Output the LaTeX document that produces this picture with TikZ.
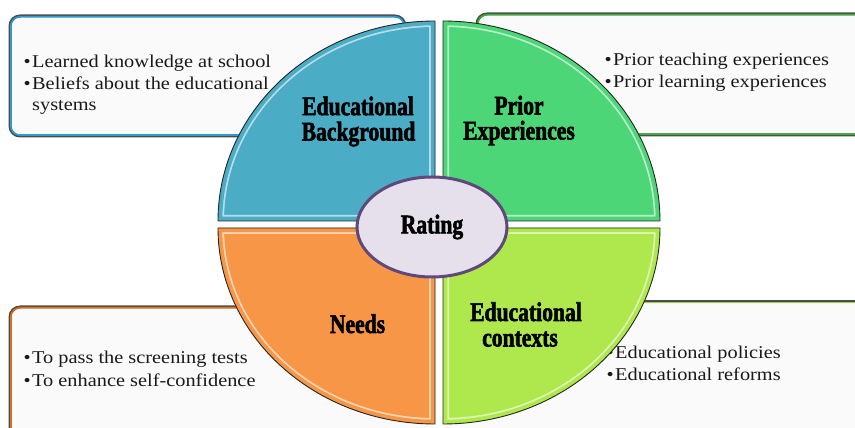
\documentclass[tikz,border=0pt]{standalone}
\usepackage{fontspec}
\setmainfont{Liberation Serif}[FakeStretch=1.13]
\newfontfamily\headfont{Liberation Serif}[FakeStretch=0.8,BoldFeatures={FakeBold=2}]
\usetikzlibrary{shapes.geometric}
\definecolor{qblue}{HTML}{4BACC6}
\definecolor{qgreen}{HTML}{4CD677}
\definecolor{qorange}{HTML}{F79646}
\definecolor{qlime}{HTML}{AEE84C}
\definecolor{bblue}{HTML}{1EA0DA}
\definecolor{bgreen}{HTML}{2FB52F}
\definecolor{borange}{HTML}{E46C0A}
\definecolor{blime}{HTML}{8CD92E}
\definecolor{rlav}{HTML}{E5E0EC}
\definecolor{rpurple}{HTML}{5F497A}
\definecolor{boxfill}{HTML}{FAFAFA}
\newcommand\infobox[5]{%
  \draw[line width=3pt, draw=black!70, fill=boxfill, rounded corners=10pt] (#1,#2) rectangle (#3,#4);
  \draw[line width=1.5pt, draw=#5, rounded corners=9.25pt] ({#1+0.75},{#2-0.75}) rectangle ({#3-0.75},{#4+0.75});}
\newcommand\quadrant[2]{%
  \begin{scope}
    \clip #2;
    \fill[#1] #2;
    \draw[line width=12pt, #1!40!white] #2;
    \draw[line width=8.5pt, #1] #2;
  \end{scope}
  \draw[quad] #2;}
\begin{document}
\begin{tikzpicture}[x=1pt,y=1pt,
  quad/.style={draw=black!85, line width=0.9pt},
  darkedge/.style={line width=3pt, draw=black!70, rounded corners=10pt},
  bodytext/.style={inner sep=0pt, anchor=base west, font=\fontsize{18}{21.5}\selectfont, text=black!90},
  headtext/.style={inner sep=0pt, anchor=base, text height=14pt, text depth=3pt,
                   font=\headfont\bfseries\fontsize{27}{24}\selectfont, text=black},
  ]
\useasboundingbox (0,0) rectangle (855,428);
\clip (0,0) rectangle (855,428);

% information boxes (behind the circle)
\infobox{10}{412}{405}{292}{bblue}
\infobox{477}{414}{880}{293}{bgreen}
% lower boxes: inner side hidden under the circle
\fill[boxfill, rounded corners=10pt] (10,121) rectangle (433,-20);
\draw[darkedge] (433,121) -- (10,121) -- (10,-20);
\draw[line width=1.5pt, draw=borange, rounded corners=9.25pt] (433,120.25) -- (10.75,120.25) -- (10.75,-20);
\fill[boxfill] (445,126) rectangle (880,-20);
\draw[darkedge] (445,126) -- (880,126);
\draw[line width=1.5pt, draw=blime] (445,125.25) -- (880,125.25);

% box texts
\node[bodytext] (b1a) at (32,360.3) {\llap{\textbullet\hspace{1.5pt}}Learned knowledge at school};
\node[bodytext] (b1b) at (32,338.5) {\llap{\textbullet\hspace{1.5pt}}Beliefs about the educational};
\node[bodytext] (b1c) at (32,317) {systems};
\node[bodytext] (b2a) at (613,362) {\llap{\textbullet\hspace{1.5pt}}Prior teaching experiences};
\node[bodytext] (b2b) at (613,340.5) {\llap{\textbullet\hspace{1.5pt}}Prior learning experiences};
\node[bodytext] (b3a) at (32,64) {\llap{\textbullet\hspace{1.5pt}}To pass the screening tests};
\node[bodytext] (b3b) at (32,41.5) {\llap{\textbullet\hspace{1.5pt}}To enhance self-confidence};
\node[bodytext] (b4a) at (615,69.7) {\llap{\textbullet\hspace{1.5pt}}Educational policies};
\node[bodytext] (b4b) at (615,47) {\llap{\textbullet\hspace{1.5pt}}Educational reforms};

% quadrants
\quadrant{qblue}{(435,207) -- (435,407) arc[start angle=90, end angle=180, x radius=217, y radius=200] -- cycle}
\quadrant{qgreen}{(443,207) -- (660,207) arc[start angle=0, end angle=90, x radius=217, y radius=200] -- cycle}
\quadrant{qorange}{(435,200) -- (218,200) arc[start angle=180, end angle=270, x radius=217, y radius=196] -- cycle}
\quadrant{qlime}{(443,200) -- (443,4) arc[start angle=270, end angle=360, x radius=217, y radius=196] -- cycle}

% quadrant titles
\node[headtext] (h1a) at (358,312.8) {Educational};
\node[headtext] (h1b) at (358.5,287.5) {Background};
\node[headtext] (h2a) at (519,313.5) {Prior};
\node[headtext] (h2b) at (519,288.5) {Experiences};
\node[headtext] (h3) at (357.5,95) {Needs};
\node[headtext] (h4a) at (526,107) {Educational};
\node[headtext] (h4b) at (520,81.5) {contexts};

% centre
\node[ellipse, draw=rpurple, line width=3pt, fill=rlav, minimum width=150pt, minimum height=100pt, inner sep=0pt,
      font=\headfont\bfseries\fontsize{27}{24}\selectfont] (rating) at (432,201) {Rating};
\end{tikzpicture}
\end{document}
